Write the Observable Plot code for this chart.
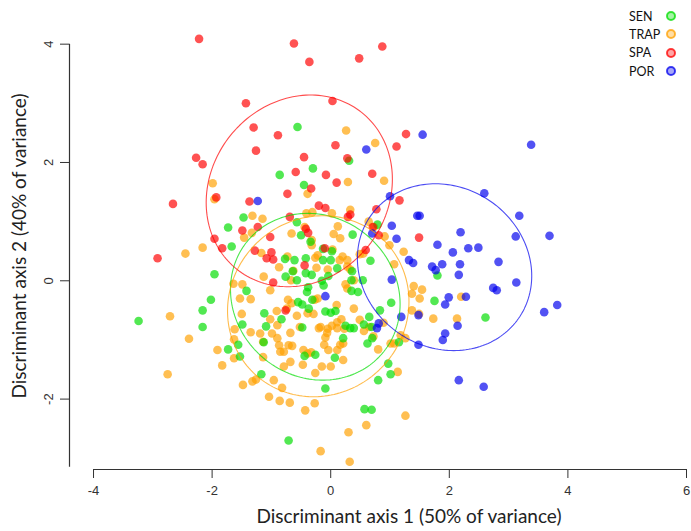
<!DOCTYPE html>
<html><head><meta charset="utf-8">
<script src="https://cdn.jsdelivr.net/npm/d3@7"></script>
<script src="https://cdn.jsdelivr.net/npm/@observablehq/plot@0.6"></script>
<style>
body{margin:0;background:#fff;}
#wrap{position:relative;width:691px;height:531px;}
#legend{position:absolute;left:629px;top:7px;font-family:Lato,"Liberation Sans",sans-serif;font-size:12.5px;color:#111;}
.row{display:flex;align-items:center;height:18.3px;}
.row span{display:inline-block;width:36px;}
</style></head><body><div id="wrap"><div id="legend"></div></div>
<script>
const groups = ["SEN", "TRAP", "SPA", "POR"];
const colors = ["#00dd00", "#ffa000", "#ff0000", "#0000ee"];
const drawOrder = ["TRAP", "SEN", "SPA", "POR"];
const xTicks = [-4, -2, 0, 2, 4, 6];
const yTicks = [-2, 0, 2, 4];
const xTitle = "Discriminant axis 1 (50% of variance)";
const yTitle = "Discriminant axis 2 (40% of variance)";

const sen = [[-0.56,2.60],[-0.30,1.90],[-0.86,1.79],[-0.45,1.62],[0.31,2.03],
[-1.47,1.07],[-1.73,0.90],[-1.67,0.58],[-0.57,0.99],[-0.50,0.77],[-0.34,0.66],[0.37,0.78],[0.79,0.95],[-0.13,0.54],[0.02,0.50],[0.67,0.34],[0.11,0.21],[0.00,0.35],
[-1.96,0.11],[-0.77,0.37],[-0.61,0.35],[-0.42,0.38],[-0.13,0.35],[-0.76,0.07],[-0.64,0.16],[-0.42,0.13],[-0.32,0.10],[-0.57,0.01],[-0.15,0.00],[-0.04,0.08],[0.36,0.16],[0.35,0.01],[0.54,0.01],[-0.38,-0.11],[-0.12,-0.08],
[-1.42,-0.17],[-0.40,-0.19],[0.35,-0.17],[0.46,-0.19],[-2.02,-0.32],[1.02,-0.37],
[-0.55,-0.36],[-0.48,-0.40],[-0.31,-0.32],[-0.37,-0.47],[-2.16,-0.50],[-1.12,-0.55],[-0.83,-0.65],[-0.09,-0.52],[0.00,-0.54],[0.08,-0.51],[0.65,-0.61],[0.83,-0.50],
[-1.09,-0.77],[-2.16,-0.78],[-1.49,-0.74],[-0.48,-0.79],[0.25,-0.76],[0.33,-0.80],[0.39,-0.80],[0.56,-0.74],[0.69,-0.78],[-3.24,-0.68],
[-1.56,-1.08],[-1.13,-1.04],[-1.73,-1.16],[0.21,-0.97],[0.62,-1.06],[0.70,-0.97],[1.15,-1.04],[-1.53,-1.28],[-0.44,-1.27],[-0.26,-1.25],[0.07,-1.30],[0.97,-1.40],[1.01,-1.58],[-1.17,-1.58],[0.80,-1.68],[-0.09,-1.82],[0.57,-2.17],[0.69,-2.18],[-0.71,-2.70],[1.80,0.09],[1.75,-0.34],[2.61,-0.62]];

const trap = [[0.26,2.54],[0.75,2.33],[0.29,1.67],[0.90,1.69],[-1.99,1.65],[-1.96,1.38],[-0.39,1.47],
[-1.32,1.10],[-1.15,1.05],[-0.41,1.14],[-0.31,1.16],[0.02,1.14],[0.33,1.20],[0.12,0.92],[-0.66,0.80],[-0.44,0.91],
[0.05,0.79],[0.16,0.72],[0.64,1.00],[0.73,0.91],[0.91,0.75],[0.99,0.60],[1.23,0.49],[1.07,0.28],
[-1.33,0.81],[-1.46,0.73],[-2.16,0.56],[-2.45,0.46],[-1.17,0.47],[-0.73,0.41],[-0.87,0.23],[-0.63,0.17],[-1.13,0.07],
[-0.32,0.69],[-0.32,0.60],[-0.26,0.39],[-0.22,0.43],[-0.05,0.19],[0.03,0.53],[0.20,0.41],[0.28,0.35],[0.28,0.24],[0.33,0.19],[0.39,0.01],[0.49,0.45],[0.55,0.46],[0.15,0.35],[-0.24,0.22],
[-1.02,-0.16],[-1.64,-0.05],[-1.49,-0.06],[-0.67,0.01],[0.25,-0.06],[0.28,-0.13],
[-1.53,-0.30],[-1.35,-0.31],[-0.72,-0.32],[-0.66,-0.38],[-0.22,-0.30],[-0.27,-0.32],
[1.40,-0.09],[1.54,-0.15],[1.37,-0.22],[1.50,-0.30],[1.37,-0.50],[1.49,-0.56],[2.20,-0.27],[1.73,-0.64],[2.13,-0.64],
[-1.50,-0.56],[-0.91,-0.51],[-1.02,-0.65],[-0.74,-0.47],[-0.57,-0.59],[-0.29,-0.56],[-0.39,-0.55],[0.10,-0.41],[0.39,-0.47],
[-2.71,-0.60],[-1.62,-0.82],[-1.35,-0.87],[-1.19,-0.89],[-0.99,-0.89],[-0.90,-0.75],[-0.68,-0.88],[-0.52,-0.78],[-0.17,-0.78],[-0.06,-0.88],[-0.20,-0.80],[-0.05,-0.81],[0.02,-0.76],[0.11,-0.70],[0.18,-0.65],[0.11,-0.80],[0.23,-0.81],[0.49,-0.66],[0.65,-0.78],[0.56,-0.85],[0.72,-0.94],[0.89,-0.71],
[-2.39,-0.98],[-1.63,-0.99],[-0.90,-0.97],[-1.14,-1.03],[-0.87,-1.09],[-0.71,-1.09],[-0.65,-1.10],[-0.11,-1.08],[-0.09,-0.96],[0.16,-1.08],[-0.04,-1.17],[0.11,-1.17],[0.21,-1.06],[0.80,-1.16],[1.01,-1.06],[1.07,-1.06],[1.18,-0.92],[1.26,-0.97],
[-1.91,-1.17],[-1.63,-1.31],[-1.83,-1.43],[-1.14,-1.29],[-0.85,-1.20],[-0.79,-1.20],[-0.46,-1.17],[-0.39,-1.23],[-0.33,-1.21],[-0.68,-1.37],[-0.79,-1.45],[-0.47,-1.42],[-0.15,-1.45],[0.00,-1.45],[0.21,-1.34],[-0.26,-1.56],[1.13,-1.54],
[-2.75,-1.58],[-1.32,-1.70],[-1.26,-1.67],[-1.48,-1.76],[-0.96,-1.68],[-0.82,-1.81],[-1.04,-1.96],[-0.86,-2.03],[-0.69,-2.06],[-0.27,-2.07],[-0.43,-2.19],[1.26,-2.28],[0.60,-2.44],[0.30,-2.56],[-0.17,-2.88],[0.32,-3.06]];

const spa = [[-2.22,4.09],[-0.62,4.01],[0.87,3.96],[-0.36,3.70],[0.48,3.76],
[-1.43,3.00],[0.03,3.04],[-1.30,2.59],[-0.89,2.46],[1.27,2.48],
[0.08,2.29],[1.11,2.27],[-1.26,2.20],[-2.27,2.08],[-2.16,1.97],
[-0.45,2.09],[0.28,2.07],[-0.59,1.84],[-0.08,1.79],[0.70,1.81],
[0.10,1.66],[-0.33,1.56],[-0.73,1.47],[-2.66,1.30],[-1.93,1.41],
[-1.37,1.34],[1.16,1.36],[-0.20,1.27],[-0.09,1.23],[0.77,1.21],
[-0.69,1.08],[0.29,1.08],[0.33,1.12],[-1.23,0.91],[-1.49,0.85],
[-0.42,0.88],[-0.38,0.81],[0.71,0.91],[0.81,0.77],[-1.02,0.74],
[-1.96,0.71],[1.49,0.73],[-1.83,0.55],[-1.28,0.51],[-0.10,0.55],
[0.59,0.52],[-2.92,0.38],[-1.00,0.48],[-1.08,0.38],[-0.97,0.36],
[-0.44,0.26],[-0.97,-0.03],[-0.76,-0.50]];

const por = [[1.55,2.47],[3.38,2.30],[0.60,2.22],[-1.23,1.35],[1.00,1.43],[2.59,1.48],[1.46,1.10],[1.50,1.10],[3.18,1.10],[1.03,0.93],
[0.70,0.80],[1.11,0.71],[2.19,0.82],[3.12,0.75],[3.69,0.76],[1.80,0.61],[2.32,0.55],[2.49,0.56],[2.06,0.48],[1.32,0.35],
[1.39,0.30],[2.83,0.32],[1.71,0.24],[1.77,0.18],[1.88,0.28],[2.18,0.28],[1.03,0.02],[2.16,0.10],[3.13,-0.03],[2.74,-0.12],
[2.80,-0.16],[-0.09,-0.26],[1.99,-0.28],[2.28,-0.27],[1.93,-0.40],[3.60,-0.53],[3.82,-0.41],[1.19,-0.61],[1.48,-0.58],[0.81,-0.72],
[0.78,-0.80],[2.14,-0.76],[1.93,-0.89],[1.89,-1.00],[1.48,-1.08],[2.16,-1.68],[2.58,-1.79]];

// ellipse parameters per group: centre, half-extents, phase of y vs x (degrees)
const ellipseGroup = ["SEN", "TRAP", "SPA", "POR"];
const ellipseCx = [-0.26, -0.21, -0.53, 1.92];
const ellipseCy = [-0.27, -0.43, 1.52, 0.23];
const ellipseRx = [1.43, 1.53, 1.57, 1.47];
const ellipseRy = [1.41, 1.53, 1.62, 1.41];
const ellipsePhase = [95, 87, 83, 96];

const layout = {yAxisLow: -3.15, xDomain: [-4.405, 6], yDomain: [-3.19, 4.4]};

const byGroup = {SEN: sen, TRAP: trap, SPA: spa, POR: por};
const points = drawOrder.flatMap(g => byGroup[g].map(([x, y]) => ({group: g, x, y})));

const rad = Math.PI / 180;
const ellipses = ellipseGroup.flatMap((g, i) =>
  d3.range(0, 361, 2).map(t => ({
    group: g,
    x: ellipseCx[i] + ellipseRx[i] * Math.cos(t * rad),
    y: ellipseCy[i] + ellipseRy[i] * Math.cos((t - ellipsePhase[i]) * rad)
  })));

const plot = Plot.plot({
  width: 691, height: 531,
  marginLeft: 69, marginRight: 5, marginTop: 20, marginBottom: 62,
  x: {domain: layout.xDomain, label: null},
  y: {domain: layout.yDomain, label: null},
  color: {domain: groups, range: colors},
  style: {fontFamily: "'Liberation Sans', Arial, sans-serif", background: "white", color: "#333"},
  marks: [
    Plot.dot(points, {x: "x", y: "y", fill: "group", r: 4.3, fillOpacity: 0.68}),
    Plot.line(ellipses, {x: "x", y: "y", z: "group", stroke: "group", strokeWidth: 1.1, strokeOpacity: 0.7}),
    Plot.ruleY([layout.yDomain[0]], {x1: d3.min(xTicks), x2: d3.max(xTicks), stroke: "#333", strokeWidth: 1.2}),
    Plot.ruleX([layout.xDomain[0]], {y1: layout.yAxisLow, y2: d3.max(yTicks), stroke: "#333", strokeWidth: 1.2}),
    Plot.axisX(xTicks, {anchor: "bottom", label: null, tickSize: 9, tickPadding: 7, fontSize: 13, tickFormat: d => String(d)}),
    Plot.axisY(yTicks, {anchor: "left", label: null, tickSize: 9, tickPadding: 8, tickRotate: -90, fontSize: 13, tickFormat: d => String(d)}),
    Plot.text([xTitle], {frameAnchor: "bottom", textAnchor: "middle", dx: 31, dy: 53, fontSize: 19, fontFamily: "Lato, sans-serif", fill: "#222"}),
    Plot.text([yTitle], {frameAnchor: "left", textAnchor: "middle", rotate: -90, dx: -50, dy: 1, fontSize: 19, fontFamily: "Lato, sans-serif", fill: "#222"})
  ]
});
document.getElementById("wrap").prepend(plot);

const legend = document.getElementById("legend");
groups.forEach((g, i) => {
  const row = document.createElement("div");
  row.className = "row";
  row.innerHTML = `<span>${g}</span><svg width="12" height="12"><circle cx="6" cy="6" r="4" fill="${colors[i]}" fill-opacity="0.35" stroke="${colors[i]}" stroke-opacity="0.75" stroke-width="2"/></svg>`;
  legend.appendChild(row);
});
</script></body></html>
